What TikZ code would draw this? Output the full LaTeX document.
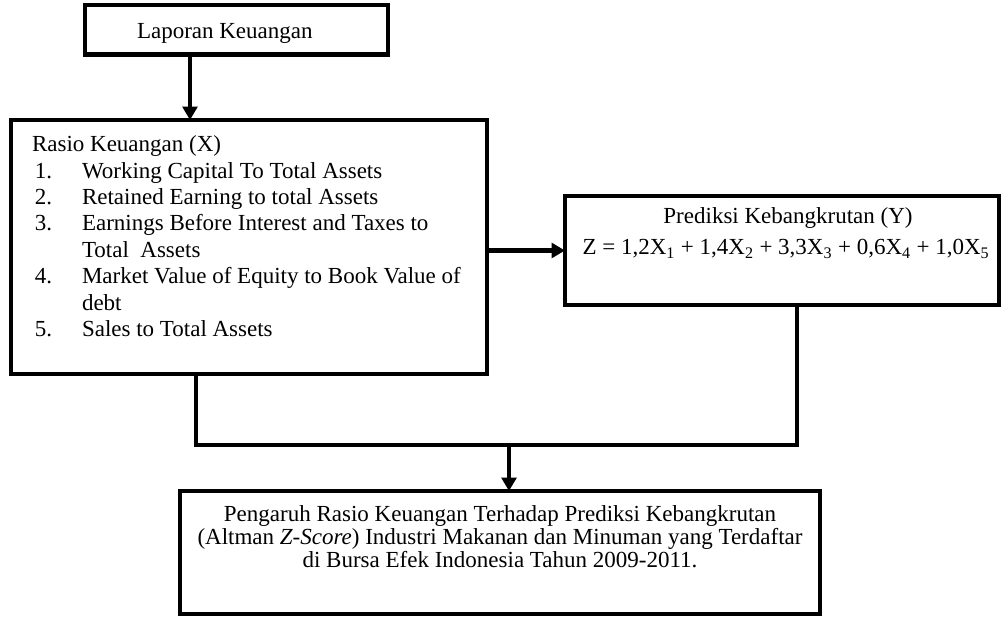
\documentclass[tikz,border=0pt]{standalone}
\usepackage{fontspec}
\setmainfont{Liberation Serif}
\usetikzlibrary{arrows.meta,calc}
\begin{document}
\begin{tikzpicture}[x=0.75pt,y=-0.75pt,
  box/.style={draw=black,line width=3.6pt,inner sep=0pt,outer sep=0pt,rectangle},
  txt/.style={inner sep=0pt,outer sep=0pt,font=\fontsize{17.25}{20}\selectfont},
  conn/.style={draw=black,line width=3.6pt},
  arr/.style={conn,-{Triangle[length=10pt,width=11pt]}}]
\useasboundingbox (0,0) rectangle (1004,620);
% boxes
\node[box,minimum width=227.25pt,minimum height=37.1pt] (top) at (236.5,29.75) {};
\node[box,minimum width=357pt,minimum height=190.5pt] (left) at (249,247) {};
\node[box,minimum width=325.5pt,minimum height=81.75pt] (right) at (782,250.5) {};
\node[box,minimum width=480pt,minimum height=92.25pt] (bottom) at (500,552.5) {};
% texts
\node[txt,anchor=base west] (t0) at (137,39) {Laporan Keuangan};
\node[txt,anchor=base west] (l0) at (32,151.7) {Rasio Keuangan (X)};
\node[txt,anchor=base west] (n1) at (35,178.1) {1.};
\node[txt,anchor=base west] (i1) at (82,178.1) {Working Capital To Total Assets};
\node[txt,anchor=base west] (n2) at (35,204.5) {2.};
\node[txt,anchor=base west] (i2) at (82,204.5) {Retained Earning to total Assets};
\node[txt,anchor=base west] (n3) at (35,230.9) {3.};
\node[txt,anchor=base west] (i3) at (82,230.9) {Earnings Before Interest and Taxes to};
\node[txt,anchor=base west] (i3b) at (82,257.3) {Total\ \ Assets};
\node[txt,anchor=base west] (n4) at (35,283.7) {4.};
\node[txt,anchor=base west] (i4) at (82,283.7) {Market Value of Equity to Book Value of};
\node[txt,anchor=base west] (i4b) at (82,310.1) {debt};
\node[txt,anchor=base west] (n5) at (35,336.5) {5.};
\node[txt,anchor=base west] (i5) at (82,336.5) {Sales to Total Assets};
\node[txt,anchor=base] (r1) at (788,224) {Prediksi Kebangkrutan (Y)};
\node[txt,anchor=base] (r2) at (786,255) {Z = 1,2X\textsubscript{1} + 1,4X\textsubscript{2} + 3,3X\textsubscript{3} + 0,6X\textsubscript{4} + 1,0X\textsubscript{5}};
\node[txt,anchor=base] (b1) at (500,521) {Pengaruh Rasio Keuangan Terhadap Prediksi Kebangkrutan};
\node[txt,anchor=base] (b2) at (500,544) {(Altman \textit{Z-Score}) Industri Makanan dan Minuman yang Terdaftar};
\node[txt,anchor=base] (b3) at (500,567) {di Bursa Efek Indonesia Tahun 2009-2011.};
% connector coordinates
\coordinate (ax) at (190,0);
\coordinate (lx) at (196,0);
\coordinate (rx) at (797,0);
\coordinate (mx) at (509,0);
\coordinate (hy) at (0,445);
% connectors
\draw[arr] (top.south -| ax) -- (left.north -| ax);
\draw[arr] (left.east |- right.west) -- (right.west);
\draw[conn] (left.south -| lx) -- (lx |- hy) -- (rx |- hy) -- (right.south -| rx);
\draw[arr] (mx |- hy) -- (bottom.north -| mx);
\end{tikzpicture}
\end{document}
